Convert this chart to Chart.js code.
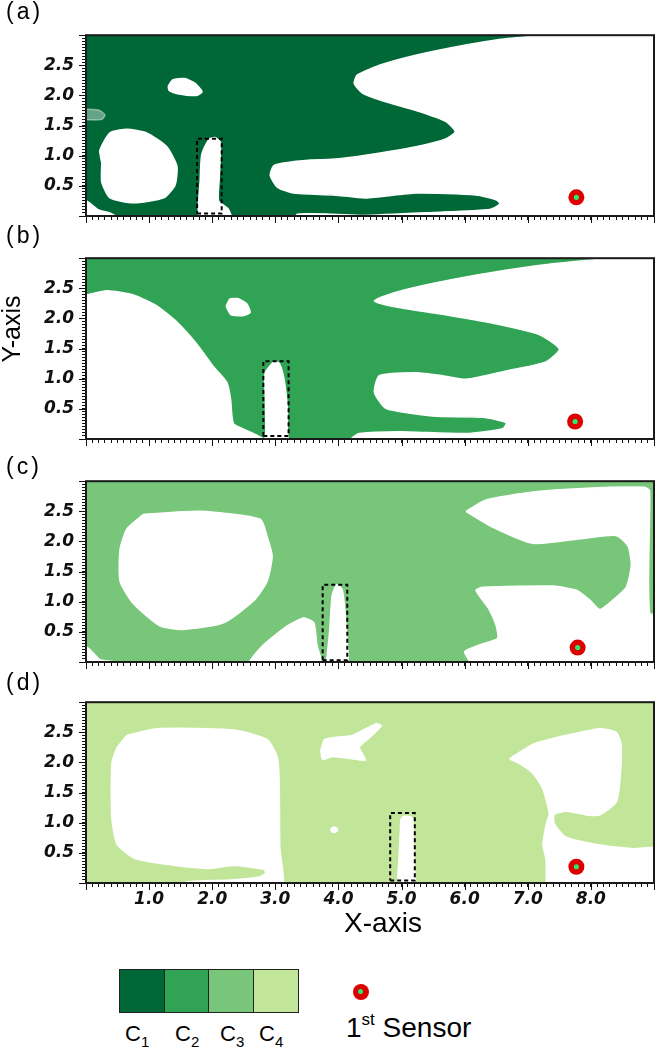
<!DOCTYPE html>
<html><head><meta charset="utf-8">
<script src="https://cdn.jsdelivr.net/npm/chart.js@4.4.1/dist/chart.umd.min.js"></script>
<style>
html,body{margin:0;padding:0;background:#fff;}
#wrap{position:relative;width:664px;height:1051px;overflow:hidden;font-family:'Liberation Sans',Arial,sans-serif;color:#000;background:#fff;}
canvas.pan{position:absolute;left:0;}
.plab{position:absolute;left:6px;font-size:23px;line-height:23px;letter-spacing:3px;}
.axt{position:absolute;white-space:nowrap;}
.lbox{position:absolute;top:969px;height:44px;box-sizing:border-box;border:1.5px solid #222;}
.clab{position:absolute;top:1023px;font-size:22px;line-height:22px;}
.clab span{font-size:15px;position:relative;top:6px;}
</style></head><body>
<div id="wrap">
  <canvas id="pa" class="pan" width="664" height="229" style="top:17px;width:664px;height:229px"></canvas>
  <canvas id="pb" class="pan" width="664" height="229" style="top:240px;width:664px;height:229px"></canvas>
  <canvas id="pc" class="pan" width="664" height="229" style="top:463px;width:664px;height:229px"></canvas>
  <canvas id="pd" class="pan" width="664" height="229" style="top:684px;width:664px;height:229px"></canvas>
  <div class="plab" style="top:0px">(a)</div>
  <div class="plab" style="top:224px">(b)</div>
  <div class="plab" style="top:455px">(c)</div>
  <div class="plab" style="top:671px">(d)</div>
  <div class="axt" style="left:11px;top:329px;font-size:25px;line-height:25px;transform:translate(-50%,-50%) rotate(-90deg);">Y-axis</div>
  <div class="axt" style="left:383px;top:909px;font-size:28px;line-height:28px;transform:translateX(-50%);">X-axis</div>
  <div id="legend"></div>
</div>
<script>
// ---------------- data ----------------
const X_MIN = 0, X_MAX = 9, Y_MIN = 0, Y_MAX = 3;
const X_TICK_LABELS = ['1.0','2.0','3.0','4.0','5.0','6.0','7.0','8.0'];
const Y_TICK_LABELS = ['0.5','1.0','1.5','2.0','2.5'];
const CLASS_NAMES = ['C1','C2','C3','C4'];
const PANEL_NAMES = ['(a)','(b)','(c)','(d)'];
const SENSOR_LABEL = '1st Sensor';

// first-sensor location per panel
const SENSOR_A = [7.77, 0.31];
const SENSOR_B = [7.75, 0.29];
const SENSOR_C = [7.79, 0.24];
const SENSOR_D = [7.77, 0.27];

// dashed rectangles [x0, y0, x1, y1]
const RECT_A = [1.76, 0.04, 2.15, 1.28];
const RECT_B = [2.81, 0.05, 3.21, 1.29];
const RECT_C = [3.75, 0.03, 4.14, 1.28];
const RECT_D = [4.82, 0.04, 5.21, 1.16];

// whole domain (class region background)
const FULL = [[-0.5,-0.5],[9.5,-0.5],[9.5,3.5],[-0.5,3.5]];

// ---- panel (a): C1, regions outside class ----
const A_HOLE_RIGHT = [[7.3,3.0],[7.5,3.1],[9.2,3.1],[9.2,-0.1],[3.3,-0.1],[3.35,0.03],[3.9,0.03],[4.4,0.01],[5.5,0.06],[6.4,0.11],[6.56,0.2],[6.5,0.27],[6.18,0.35],[5.23,0.38],[4.43,0.30],[3.93,0.35],[3.29,0.38],[3.03,0.48],[2.92,0.67],[2.97,0.83],[3.13,0.88],[3.56,0.93],[3.9,0.94],[4.43,1.01],[5.23,1.15],[5.70,1.28],[5.85,1.40],[5.70,1.57],[5.23,1.75],[4.70,1.91],[4.38,2.04],[4.25,2.20],[4.30,2.34],[4.70,2.52],[5.49,2.73],[6.55,2.93]];
const A_HOLE_CIRCLE = [[0.25,0.88],[0.22,1.09],[0.38,1.38],[0.65,1.44],[0.96,1.38],[1.28,1.15],[1.44,0.83],[1.41,0.51],[1.23,0.30],[0.75,0.22],[0.38,0.30],[0.25,0.56]];
const A_HOLE_SMALL = [[1.30,2.15],[1.38,2.26],[1.56,2.28],[1.72,2.21],[1.84,2.06],[1.74,2.0],[1.45,2.03],[1.32,2.08]];
const A_HOLE_RECT = [[1.95,1.28],[2.05,1.30],[2.13,1.22],[2.11,0.6],[2.10,0.25],[2.25,0.12],[2.32,-0.1],[1.80,-0.1],[1.81,0.6],[1.83,1.0],[1.88,1.15]];
const A_HOLE_CORNER = [[-0.1,-0.1],[0.6,-0.1],[0.4,0.04],[0.2,0.1],[0.05,0.22],[-0.1,0.3]];
const A_PALE = [[-0.1,1.6],[0.25,1.6],[0.3,1.68],[0.2,1.76],[-0.1,1.76]];

// ---- panel (b): C2 ----
const B_HOLE_LEFT = [[-0.1,2.39],[0.0,2.39],[0.33,2.46],[0.75,2.39],[1.12,2.21],[1.44,1.94],[1.76,1.57],[2.02,1.20],[2.23,0.94],[2.29,0.67],[2.31,0.41],[2.34,0.25],[2.55,0.14],[2.71,0.06],[2.82,0.0],[2.85,-0.1],[-0.1,-0.1]];
const B_HOLE_DOT = [[2.22,2.2],[2.28,2.32],[2.40,2.33],[2.55,2.24],[2.60,2.10],[2.50,2.05],[2.30,2.06]];
const B_HOLE_RECT = [[2.97,1.28],[3.06,1.26],[3.13,1.04],[3.19,0.51],[3.19,0.14],[3.2,-0.1],[2.84,-0.1],[2.85,0.14],[2.84,0.7],[2.84,1.10]];
const B_HOLE_RIGHT = [[8.38,3.0],[8.5,3.1],[9.2,3.1],[9.2,-0.1],[4.2,-0.1],[4.22,0.02],[4.33,0.09],[4.96,0.12],[6.02,0.09],[6.60,0.17],[6.66,0.27],[6.29,0.36],[5.49,0.38],[4.75,0.51],[4.57,0.78],[4.65,1.05],[5.23,1.10],[5.65,1.05],[6.02,0.99],[6.66,1.13],[7.29,1.28],[7.50,1.49],[7.19,1.73],[6.55,1.90],[5.76,2.05],[4.96,2.18],[4.57,2.29],[4.86,2.42],[5.49,2.58],[6.29,2.74],[7.34,2.90]];

// ---- panel (c): C3 ----
const C_HOLE_CIRCLE = [[0.91,2.45],[1.81,2.50],[2.76,2.37],[2.87,2.08],[2.95,1.76],[2.87,1.34],[2.66,1.02],[2.18,0.65],[1.54,0.54],[1.17,0.60],[0.75,0.97],[0.54,1.34],[0.54,1.87],[0.65,2.21]];
const C_HOLE_CORNER = [[-0.1,-0.1],[0.5,-0.1],[0.45,0.0],[0.22,0.04],[0.05,0.22],[-0.1,0.3]];
const C_HOLE_BUMP = [[2.55,-0.1],[2.6,0.02],[2.81,0.28],[3.19,0.60],[3.45,0.73],[3.61,0.65],[3.66,0.28],[3.74,0.0],[3.76,-0.1]];
const C_HOLE_RECT = [[3.8,-0.1],[4.14,-0.1],[4.12,0.6],[4.06,1.2],[3.97,1.28],[3.9,1.1],[3.86,0.5]];
const C_HOLE_RIGHT = [[6.02,2.50],[6.34,2.69],[7.08,2.82],[7.87,2.88],[8.85,2.90],[8.93,2.84],[8.93,0.81],[9.2,0.78],[9.2,-0.1],[6.05,-0.1],[6.07,0.02],[6.0,0.17],[6.23,0.28],[6.52,0.39],[6.50,0.60],[6.39,0.87],[6.18,1.19],[6.29,1.24],[7.40,1.26],[7.77,1.19],[7.98,1.03],[8.14,0.87],[8.35,1.03],[8.56,1.24],[8.64,1.60],[8.59,1.92],[8.40,2.10],[7.87,2.05],[7.08,1.97],[6.44,2.24]];

// ---- panel (d): C4 ----
const D_HOLE_SQUARE = [[0.65,2.45],[1.12,2.56],[2.34,2.54],[2.87,2.38],[3.03,2.09],[3.06,1.71],[3.07,0.6],[3.09,-0.1],[1.5,-0.1],[1.6,0.02],[2.3,0.05],[2.75,0.1],[2.85,0.17],[2.81,0.23],[2.34,0.29],[1.92,0.24],[1.28,0.31],[0.75,0.42],[0.49,0.65],[0.41,1.08],[0.41,1.98],[0.49,2.24]];
const D_HOLE_BLOB = [[3.72,2.2],[3.78,2.38],[3.90,2.41],[4.22,2.45],[4.59,2.64],[4.68,2.61],[4.49,2.41],[4.33,2.25],[4.43,2.04],[4.22,2.06],[3.90,2.10],[3.75,2.05]];
const D_HOLE_DOT = [[3.88,0.9],[3.94,0.93],[3.99,0.88],[3.95,0.84],[3.89,0.85]];
const D_HOLE_RECT = [[5.03,1.11],[5.17,1.08],[5.19,0.5],[5.20,-0.1],[4.95,-0.1],[4.96,0.4],[4.98,0.83],[4.99,1.05]];
const D_HOLE_RIGHT = [[6.71,2.06],[7.08,2.30],[7.61,2.45],[8.14,2.56],[8.40,2.50],[8.48,2.30],[8.46,1.71],[8.40,1.34],[8.14,1.13],[7.93,1.13],[7.61,1.19],[7.42,1.14],[7.42,0.98],[7.61,0.76],[8.14,0.63],[8.67,0.57],[9.2,0.57],[9.2,-0.1],[7.34,-0.1],[7.29,0.39],[7.24,0.65],[7.30,1.0],[7.34,1.15],[7.24,1.56],[7.08,1.82],[6.87,1.98]];

// ---------------- styles ----------------
const CLASS_COLORS = ['#006837','#31a354','#78c679','#c2e699'];
const HOLE_COLOR = '#ffffff';
const PALE_COLOR = 'rgba(255,255,255,0.4)';
const SENSOR_OUTER = '#dc0000';
const SENSOR_INNER = '#2ee86b';

const PANELS = [
  {id:'pa', cls:0, holes:[A_HOLE_RIGHT,A_HOLE_CIRCLE,A_HOLE_SMALL,A_HOLE_RECT,A_HOLE_CORNER], pale:[A_PALE], rect:RECT_A, sensor:SENSOR_A, xLabels:false},
  {id:'pb', cls:1, holes:[B_HOLE_LEFT,B_HOLE_DOT,B_HOLE_RECT,B_HOLE_RIGHT], pale:[], rect:RECT_B, sensor:SENSOR_B, xLabels:false},
  {id:'pc', cls:2, holes:[C_HOLE_CIRCLE,C_HOLE_CORNER,C_HOLE_BUMP,C_HOLE_RECT,C_HOLE_RIGHT], pale:[], rect:RECT_C, sensor:SENSOR_C, xLabels:false},
  {id:'pd', cls:3, holes:[D_HOLE_SQUARE,D_HOLE_BLOB,D_HOLE_DOT,D_HOLE_RECT,D_HOLE_RIGHT], pale:[], rect:RECT_D, sensor:SENSOR_D, xLabels:true}
];

const toPts = arr => { const p = arr.map(a => ({x:a[0], y:a[1]})); p.push({x:arr[0][0], y:arr[0][1]}); return p; };
const rectPts = r => toPts([[r[0],r[1]],[r[2],r[1]],[r[2],r[3]],[r[0],r[3]]]);
const polyDs = (arr, color, tension) => ({
  data: toPts(arr), showLine: true, fill: 'shape', backgroundColor: color,
  borderColor: color, borderWidth: 1.5, pointRadius: 0, pointHoverRadius: 0,
  tension: tension, clip: 0
});

const TICK_FONT = {family:"'DejaVu Sans', sans-serif", size:17, weight:'bold', style:'italic'};

const framePlugin = {
  id: 'frame',
  afterDraw(chart) {
    const {ctx, chartArea: a, scales} = chart;
    ctx.save();
    ctx.strokeStyle = '#111';
    ctx.lineWidth = 1;
    ctx.beginPath();
    for (let v = X_MIN; v <= X_MAX; v += 1) {
      const px = Math.round(scales.x.getPixelForValue(v)) + 0.5;
      ctx.moveTo(px, a.bottom); ctx.lineTo(px, a.bottom + 7);
    }
    for (let k = 0; k <= 6; k++) {
      const py = Math.round(scales.y.getPixelForValue(k * 0.5)) + 0.5;
      ctx.moveTo(a.left, py); ctx.lineTo(a.left - 7, py);
    }
    ctx.stroke();
    ctx.lineWidth = 2;
    ctx.strokeStyle = '#1a1a1a';
    ctx.strokeRect(a.left, a.top, a.right - a.left, a.bottom - a.top);
    ctx.restore();
  }
};

function makeChart(p) {
  const color = CLASS_COLORS[p.cls];
  const datasets = [];
  datasets.push({data: toPts([p.sensor]).slice(0,1), showLine:false, pointRadius:2.6, pointHoverRadius:2.6, pointBackgroundColor:SENSOR_INNER, pointBorderWidth:0});
  datasets.push({data: toPts([p.sensor]).slice(0,1), showLine:false, pointRadius:8, pointHoverRadius:8, pointBackgroundColor:SENSOR_OUTER, pointBorderWidth:0});
  datasets.push({data: rectPts(p.rect), showLine:true, fill:false, borderColor:'#000', borderWidth:2, borderDash:[4,3], pointRadius:0, tension:0, clip:false});
  p.pale.forEach(h => datasets.push(polyDs(h, PALE_COLOR, 0.2)));
  p.holes.forEach(h => datasets.push(polyDs(h, HOLE_COLOR, 0.2)));
  datasets.push(polyDs(FULL, color, 0));

  new Chart(document.getElementById(p.id), {
    type: 'scatter',
    data: {datasets},
    plugins: [framePlugin],
    options: {
      responsive: false, animation: false, events: [],
      layout: {padding: {left:0, right:10, top:10, bottom:4}},
      plugins: {legend:{display:false}, tooltip:{enabled:false}},
      scales: {
        x: {
          type:'linear', min:X_MIN, max:X_MAX,
          afterFit: s => { s.height = 26; },
          border: {display:false},
          grid: {drawOnChartArea:false, drawTicks:true, tickLength:4, tickColor:'#111', tickWidth:1},
          ticks: {
            stepSize: 0.1, autoSkip:false, maxRotation:0, minRotation:0, padding:2,
            color:'#111', font: TICK_FONT,
            callback: v => {
              if (!p.xLabels) return '';
              const r = Math.round(v);
              if (Math.abs(v - r) > 1e-6) return '';
              const lab = r.toFixed(1);
              return X_TICK_LABELS.includes(lab) ? lab : '';
            }
          }
        },
        y: {
          type:'linear', min:Y_MIN, max:Y_MAX,
          afterFit: s => { s.width = 86; },
          border: {display:false},
          grid: {drawOnChartArea:false, drawTicks:true, tickLength:4, tickColor:'#111', tickWidth:1},
          ticks: {
            stepSize: 0.05, autoSkip:false, padding:8,
            color:'#111', font: TICK_FONT,
            callback: v => {
              const r = Math.round(v * 2) / 2;
              if (Math.abs(v - r) > 1e-6) return '';
              const lab = r.toFixed(1);
              return Y_TICK_LABELS.includes(lab) ? lab : '';
            }
          }
        }
      }
    }
  });
}
PANELS.forEach(makeChart);

// ---------------- legend (HTML) ----------------
const lg = document.getElementById('legend');
const BOX_LEFT = 119, BOX_W = 44.5;
const LABEL_LEFT = [125, 175, 220, 259];
CLASS_NAMES.forEach((n, i) => {
  const b = document.createElement('div');
  b.className = 'lbox';
  b.style.left = (BOX_LEFT + i * BOX_W) + 'px';
  b.style.width = (BOX_W + 1.5) + 'px';
  b.style.background = CLASS_COLORS[i];
  lg.appendChild(b);
  const t = document.createElement('div');
  t.className = 'clab';
  t.style.left = LABEL_LEFT[i] + 'px';
  t.innerHTML = n.charAt(0) + '<span>' + n.slice(1) + '</span>';
  lg.appendChild(t);
});
const dot = document.createElement('div');
dot.style.cssText = 'position:absolute;left:352.7px;top:983.7px;width:16px;height:16px;border-radius:50%;background:'+SENSOR_OUTER+';';
const inner = document.createElement('div');
inner.style.cssText = 'position:absolute;left:5.4px;top:5.4px;width:5.2px;height:5.2px;border-radius:50%;background:'+SENSOR_INNER+';';
dot.appendChild(inner);
lg.appendChild(dot);
const sl = document.createElement('div');
sl.style.cssText = 'position:absolute;left:346px;top:1014px;font-size:28px;line-height:28px;white-space:nowrap;';
sl.innerHTML = SENSOR_LABEL.charAt(0) + '<span style="font-size:17px;position:relative;top:-12px;">' + SENSOR_LABEL.slice(1,3) + '</span>' + SENSOR_LABEL.slice(3);
lg.appendChild(sl);
</script>
</body></html>
